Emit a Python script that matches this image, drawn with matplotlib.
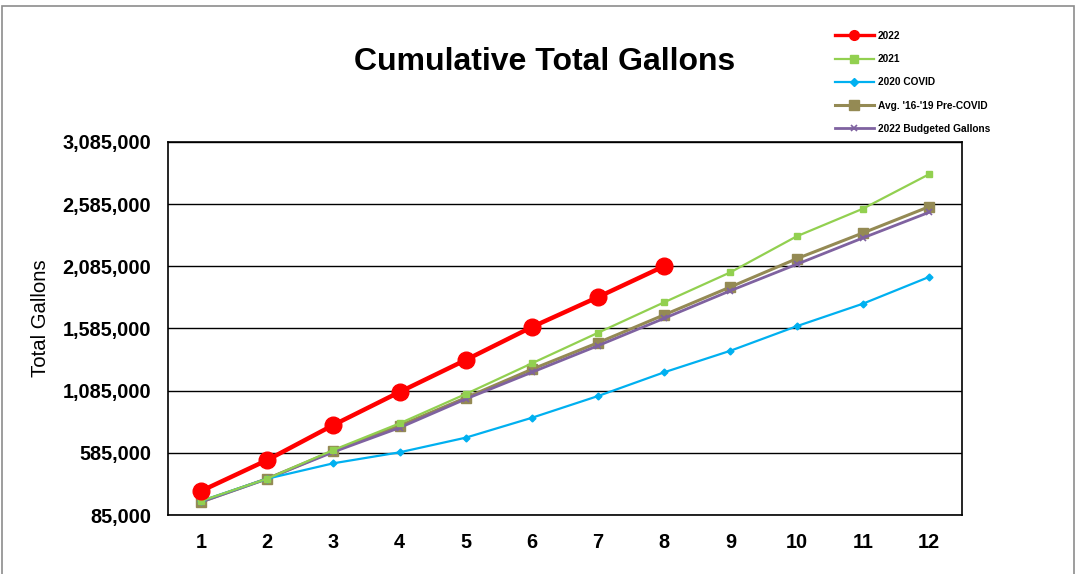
import matplotlib
matplotlib.use("Agg")
import matplotlib.pyplot as plt
from matplotlib.patches import Rectangle
from matplotlib.ticker import FuncFormatter

plt.rcParams['font.family'] = ['Liberation Sans', 'DejaVu Sans']

months = [1, 2, 3, 4, 5, 6, 7, 8, 9, 10, 11, 12]
y2022 = [278000, 527000, 809000, 1074000, 1332000, 1597000, 1838000, 2087000]
y2021 = [198000, 377000, 608000, 822000, 1058000, 1305000, 1551000, 1796000,
         2037000, 2326000, 2548000, 2825000]
y2020 = [198000, 377000, 501000, 589000, 707000, 867000, 1042000, 1233000,
         1406000, 1603000, 1784000, 1999000]
avg1619 = [190000, 377000, 600000, 803000, 1028000, 1257000, 1471000, 1695000,
           1919000, 2146000, 2353000, 2564000]
budget2022 = [190000, 377000, 592000, 787000, 1018000, 1233000, 1447000, 1667000,
              1889000, 2101000, 2313000, 2519000]
yticks = [85000, 585000, 1085000, 1585000, 2085000, 2585000, 3085000]

W, H = 1075, 574
fig = plt.figure(figsize=(W / 100, H / 100), dpi=100)
fig.patches.append(Rectangle((1.5 / W, -0.01), (1073.5 - 1.5) / W, 1 - 6 / H + 0.01,
                             transform=fig.transFigure, fill=False,
                             edgecolor='#8c8c8c', linewidth=1.2))

ax = fig.add_axes([168 / W, 1 - 515 / H, (962 - 168) / W, (515 - 142) / H])

ax.plot(months[:len(y2022)], y2022, color='#FF0000', lw=3.2, marker='o',
        markersize=12, label='2022', zorder=6)
ax.plot(months, y2021, color='#92D050', lw=1.6, marker='s', markersize=5,
        label='2021', zorder=5)
ax.plot(months, y2020, color='#00B0F0', lw=1.6, marker='D', markersize=3.5,
        label='2020 COVID', zorder=4)
ax.plot(months, avg1619, color='#948A54', lw=2.2, marker='s', markersize=6.5,
        label="Avg. '16-'19 Pre-COVID", zorder=3)
ax.plot(months, budget2022, color='#7F62A0', lw=2.0, marker='x', markersize=5,
        markeredgewidth=1.2, label='2022 Budgeted Gallons', zorder=3.5)

ax.set_xlim(0.5, 12.5)
ax.set_ylim(85000, 3085000)
ax.set_yticks(yticks)
ax.yaxis.set_major_formatter(FuncFormatter(lambda v, p: f"{int(round(v)):,}"))
ax.set_xticks(months)
ax.grid(axis='y', color='black', lw=1.0)
ax.set_axisbelow(True)
for s in ax.spines.values():
    s.set_color('black')
    s.set_linewidth(1.2)
ax.tick_params(axis='y', length=0, labelsize=14.3, pad=12)
ax.tick_params(axis='x', length=0, labelsize=14.3, pad=13)
for lab in ax.get_xticklabels() + ax.get_yticklabels():
    lab.set_fontweight('bold')
ax.set_ylabel('Total Gallons', fontsize=14.6)
ax.yaxis.set_label_coords(50 / W, 1 - 318 / H, transform=fig.transFigure)

fig.text(545 / W, 1 - 62 / H, 'Cumulative Total Gallons', ha='center',
         va='center', fontsize=23, fontweight='bold')

leg = fig.legend(loc='upper left', bbox_to_anchor=(835 / W, 1 - 31 / H),
                 frameon=False, prop={'size': 7.3, 'weight': 'bold'},
                 handlelength=3.8, handletextpad=0.45, labelspacing=1.3,
                 borderaxespad=0, borderpad=0)
leg_sizes = [7, 5.5, 4, 6.5, 4.5]
for line, ms in zip(leg.get_lines(), leg_sizes):
    line.set_markersize(ms)
leg.get_lines()[0].set_linewidth(2.4)

fig.savefig('out.png', dpi=100)
